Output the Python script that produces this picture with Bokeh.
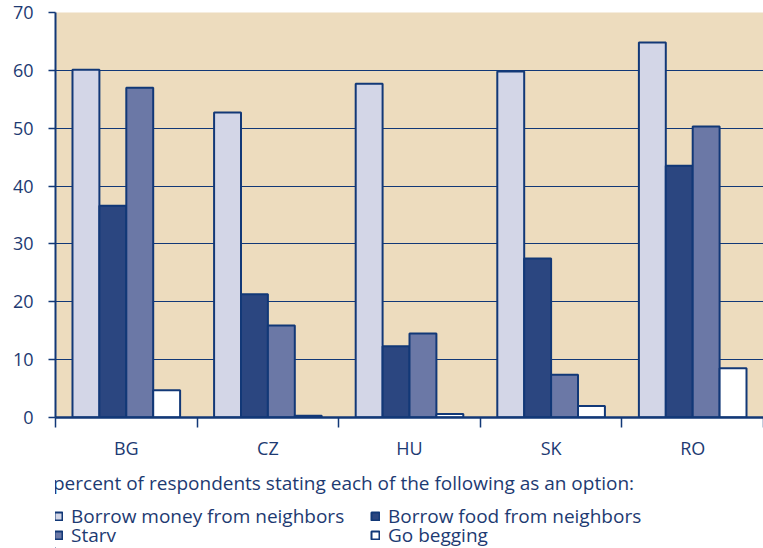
import numpy as np
from bokeh.plotting import figure
from bokeh.layouts import column
from bokeh.models import Range1d, FixedTicker, Legend, LegendItem
from bokeh.embed import file_html
from bokeh.resources import INLINE

countries = ["BG", "CZ", "HU", "SK", "RO"]
series_names = ["Borrow money from neighbors", "Borrow food from neighbors", "Starv", "Go begging"]
money = [60.1, 52.7, 57.7, 59.8, 64.8]
food = [36.6, 21.3, 12.3, 27.5, 43.5]
starv = [57.0, 15.9, 14.5, 7.4, 50.3]
begging = [4.7, 0.3, 0.6, 2.0, 8.5]
y_ticks = [0, 10, 20, 30, 40, 50, 60, 70]
caption = "percent of respondents stating each of the following as an option:"

BG = "#eddcbe"
EDGE = "#123877"
TEXT = "#1d3a72"
FONT = "Open Sans"
colors = ["#d3d6e7", "#2b4680", "#6b78a6", "#ffffff"]

# ---------------- main chart ----------------
p = figure(width=763, height=462, x_range=Range1d(0, len(countries)), y_range=Range1d(0, 70),
           output_backend="svg", toolbar_location=None,
           min_border_left=55, min_border_right=0, min_border_top=12, min_border_bottom=45)
p.background_fill_color = BG
p.border_fill_color = "white"
p.outline_line_color = None

bar_w = 0.19
offsets = [-0.285, -0.095, 0.095, 0.285]
base = np.arange(len(countries)) + 0.5
for vals, off, col in zip([money, food, starv, begging], offsets, colors):
    p.vbar(x=base + off, top=vals, width=bar_w, bottom=0,
           fill_color=col, line_color=EDGE, line_width=2)

p.xgrid.visible = False
p.ygrid.ticker = FixedTicker(ticks=y_ticks)
p.ygrid.grid_line_color = EDGE
p.ygrid.grid_line_width = 1.2

p.yaxis.ticker = FixedTicker(ticks=y_ticks)
p.yaxis.axis_line_color = EDGE
p.yaxis.axis_line_width = 2
p.yaxis.major_tick_line_color = EDGE
p.yaxis.major_tick_line_width = 1.5
p.yaxis.major_tick_out = 7
p.yaxis.major_tick_in = 0
p.yaxis.minor_tick_line_color = None
p.yaxis.major_label_standoff = 15
p.yaxis.major_label_text_font = FONT
p.yaxis.major_label_text_font_size = "18px"
p.yaxis.major_label_text_color = TEXT

p.xaxis.ticker = FixedTicker(ticks=list(base), minor_ticks=list(range(len(countries) + 1)))
p.xaxis.major_label_overrides = {float(b): c for b, c in zip(base, countries)}
p.xaxis.axis_line_color = EDGE
p.xaxis.axis_line_width = 2.5
p.xaxis.major_tick_line_color = None
p.xaxis.major_tick_out = 0
p.xaxis.major_tick_in = 0
p.xaxis.minor_tick_line_color = EDGE
p.xaxis.minor_tick_line_width = 1.5
p.xaxis.minor_tick_out = 10
p.xaxis.minor_tick_in = 0
p.xaxis.major_label_standoff = 8
p.xaxis.major_label_text_font = FONT
p.xaxis.major_label_text_font_size = "18px"
p.xaxis.major_label_text_color = TEXT

# ---------------- legend block ----------------
lg = figure(width=763, height=86, x_range=Range1d(0, 1), y_range=Range1d(0, 1),
            output_backend="svg", toolbar_location=None,
            x_axis_location=None, y_axis_location=None,
            min_border_left=0, min_border_right=0, min_border_top=0, min_border_bottom=0)
lg.outline_line_color = None
lg.grid.visible = False
lg.background_fill_color = "white"

# swatch renderers (kept outside the visible range; only their legend glyphs show)
hidden_x = [lg.x_range.start - 1]
swatches = [lg.vbar(x=hidden_x, top=[0], width=0.1, fill_color=c, line_color=EDGE, line_width=2)
            for c in colors]

common = dict(label_text_font=FONT, label_text_font_size="19px", label_text_color=TEXT,
              glyph_width=10, glyph_height=10, label_standoff=8, spacing=0,
              padding=0, margin=0, background_fill_alpha=0, border_line_color=None)
col_x = [-2, 315]
row_y = [19, 0]
for i, (name, r) in enumerate(zip(series_names, swatches)):
    row, colm = divmod(i, 2)
    kw = dict(common)
    if i == 0:
        kw.update(title=caption, title_text_font=FONT, title_text_font_size="19px",
                  title_text_font_style="normal", title_text_color=TEXT, title_standoff=7)
    leg = Legend(items=[LegendItem(label=name, renderers=[r])],
                 location=(col_x[colm], row_y[row]), **kw)
    lg.add_layout(leg, "center")

layout = column(p, lg, spacing=0)
open("out.html", "w").write(file_html(layout, INLINE))
